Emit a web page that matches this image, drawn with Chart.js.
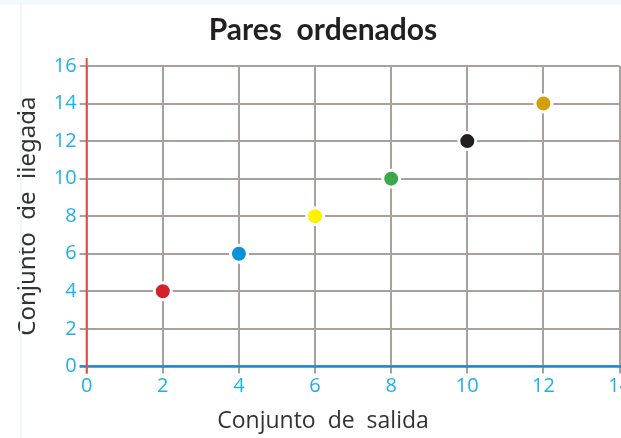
<!DOCTYPE html>
<html>
<head>
<meta charset="utf-8">
<script src="https://cdn.jsdelivr.net/npm/chart.js@4/dist/chart.umd.min.js"></script>
<style>
  html, body { margin: 0; padding: 0; overflow: hidden; background: #fff; }
  #wrap { position: relative; width: 632px; height: 438px; }
  #edge { position: absolute; left: 20px; top: 0; width: 2px; height: 438px; background: #f0f6fb; }
  #topedge { position: absolute; left: 0; top: 0; width: 632px; height: 5px; background: #f3f8fc; }
</style>
</head>
<body>
<div id="wrap">
  <div id="topedge"></div>
  <div id="edge"></div>
  <canvas id="chart" width="632" height="438"></canvas>
</div>
<script>
// pares (x, y)
const salida = [2, 4, 6, 8, 10, 12];
const llegada = [4, 6, 8, 10, 12, 14];
const colores = ['#d2232a', '#0793d9', '#fff200', '#3aaa49', '#231f20', '#d4a00a'];

const xMin = 0, xMax = 14, xStep = 2;
const yMin = 0, yMax = 16, yStep = 2;

const tickBlue = '#1fb1ea';
const gridGray = '#a9a19b';

// ejes de color (rojo vertical, azul horizontal) dibujados encima de la rejilla
const axisLines = {
    id: 'axisLines',
    beforeDatasetsDraw(chart) {
        const { ctx, scales } = chart;
        const x0 = scales.x.getPixelForValue(0);
        const y0 = scales.y.getPixelForValue(0);
        const yTop = scales.y.getPixelForValue(yMax);
        ctx.save();
        ctx.lineWidth = 2.5;
        ctx.strokeStyle = '#1a8bd0';
        ctx.beginPath();
        ctx.moveTo(x0 - 7, y0);
        ctx.lineTo(scales.x.right + 4, y0);
        ctx.stroke();
        ctx.lineWidth = 2;
        ctx.strokeStyle = '#f04a45';
        ctx.beginPath();
        ctx.moveTo(x0, yTop - 8);
        ctx.lineTo(x0, y0 + 7);
        ctx.stroke();
        ctx.restore();
    }
};

let ctx = document.getElementById('chart').getContext('2d');
new Chart(ctx,
{
    type: 'scatter',
    data: {
        datasets: [{
            label: 'Pares',
            data: salida.map((x, i) => { return { x: x, y: llegada[i] } }),
            pointBackgroundColor: colores,
            pointBorderColor: '#ffffff',
            pointBorderWidth: 3,
            pointRadius: 8.5,
            pointHoverRadius: 8.5
        }]
    },
    options: {
        responsive: false,
        animation: false,
        layout: { padding: { left: 14, right: 0, top: 4, bottom: 3 } },
        plugins: {
            legend: { display: false },
            tooltip: { enabled: false },
            title: {
                display: true,
                text: 'Pares  ordenados',
                color: '#231f20',
                font: { family: 'Lato', size: 30, weight: 'bold' },
                padding: { top: 8, bottom: 18 }
            },
            // título del eje x, centrado en todo el ancho como en el original
            subtitle: {
                display: true,
                position: 'bottom',
                text: 'Conjunto  de  salida',
                color: '#333',
                font: { family: 'Open Sans', size: 23, weight: 'normal' },
                padding: { top: 8, bottom: 0 }
            }
        },
        scales: {
            x: {
                type: 'linear',
                min: xMin, max: xMax,
                ticks: { stepSize: xStep, color: tickBlue, font: { family: 'Open Sans', size: 20 }, padding: 1 },
                grid: { color: gridGray, lineWidth: 2, tickLength: 7, tickColor: gridGray },
                border: { display: false }
            },
            y: {
                type: 'linear',
                min: yMin, max: yMax,
                ticks: { stepSize: yStep, color: tickBlue, font: { family: 'Open Sans', size: 20 }, padding: 3 },
                grid: { color: gridGray, lineWidth: 2, tickLength: 7, tickColor: gridGray },
                border: { display: false },
                title: {
                    display: true,
                    text: 'Conjunto  de  llegada',
                    color: '#333',
                    font: { family: 'Noto Sans', size: 24 },
                    padding: { top: 0, bottom: 8 }
                }
            }
        }
    },
    plugins: [axisLines]
});
</script>
</body>
</html>
